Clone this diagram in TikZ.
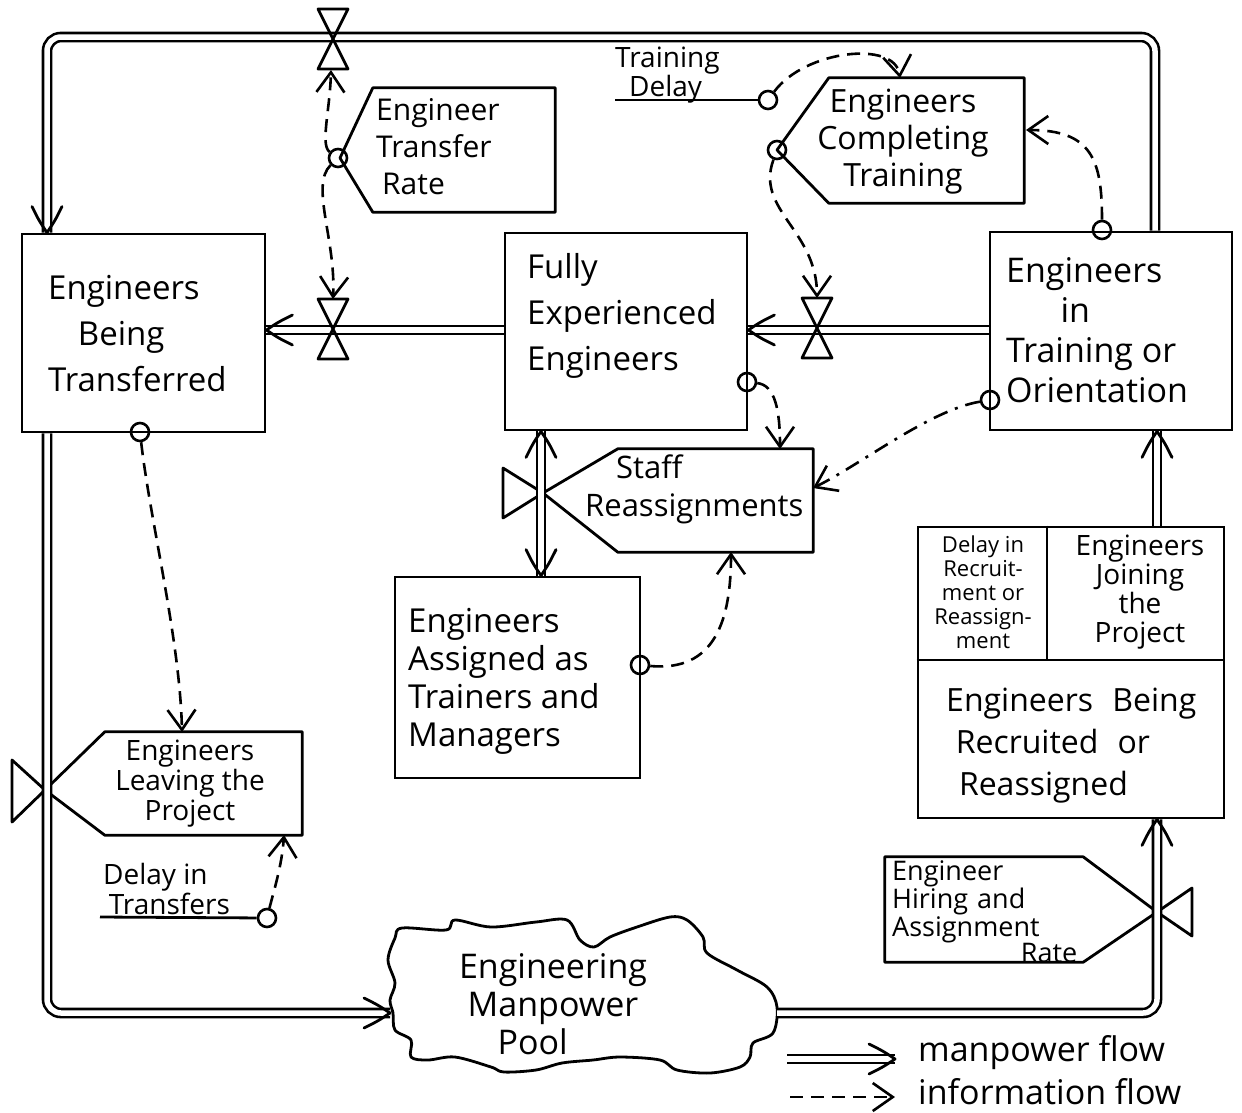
\documentclass[tikz,border=0pt]{standalone}
\usepackage{fontspec}
\setmainfont{Open Sans}
\usetikzlibrary{arrows.meta,fit,calc}
\begin{document}
\begin{tikzpicture}[x=1pt,y=-1pt,
  line/.style={line width=2.8pt, line join=round},
  box/.style={draw, line width=2.8pt, inner sep=0pt},
  hidden/.style={inner sep=0pt},
  flow/.style={double, double distance=5.5pt, line width=2.6pt},
  info/.style={line width=2.6pt, dash pattern=on 13pt off 8pt, -{Straight Barb[length=20pt,width=28pt,line width=2.6pt]}},
  infodd/.style={line width=2.6pt, dash pattern=on 15pt off 8pt on 3pt off 8pt, -{Straight Barb[length=20pt,width=28pt,line width=2.6pt]}},
  dot/.style={circle, draw, line width=2.6pt, minimum size=18pt, inner sep=0pt},
  txt/.style={inner sep=0pt, align=left},
  vvalve/.pic={\draw[line width=2.8pt, line join=round] (0,0) -- (-15,-30) -- (15,-30) -- cycle (0,0) -- (-15,30) -- (15,30) -- cycle;},
  mtip/.pic={\draw[line width=2.8pt, line cap=round, line join=round] (-26,-15) .. controls (-12,-8) .. (0,0) .. controls (-12,8) .. (-26,15);}
]
\useasboundingbox (0,0) rectangle (1242,1112);

% ---------- levels (boxes) ----------
\node[box, fit={(22,234)(265,432)}] (bt) {};
\node[box, fit={(505,233)(747,430)}] (fe) {};
\node[box, fit={(990,232)(1232,430)}] (tr) {};
\node[box, fit={(395,577)(640,778)}] (as) {};
\node[box, fit={(918,527)(1224,818)}] (rec) {};
\coordinate (divy) at (0,660);
\coordinate (divx) at (1047,0);
\draw[line] (rec.west |- divy) -- (rec.east |- divy);
\draw[line] (rec.north -| divx) -- (divx |- divy);

% ---------- rate symbols ----------
\node[hidden, fit={(373,88)(555,212)}] (rate) {};
\coordinate (rateTip) at (340,158);
\draw[line] (rateTip) -- (rate.north west) -- (rate.north east) -- (rate.south east) -- (rate.south west) -- cycle;

\node[hidden, fit={(829,78)(1024,203)}] (ct) {};
\coordinate (ctTip) at (777,150);
\draw[line] (ctTip) -- (ct.north west) -- (ct.north east) -- (ct.south east) -- (ct.south west) -- cycle;

\node[hidden, fit={(618,449)(813,552)}] (sr) {};
\coordinate (srTip) at (543,493);
\draw[line] (srTip) -- (sr.north west) -- (sr.north east) -- (sr.south east) -- (sr.south west) -- cycle;
\draw[line] (srTip) -- (503,468) -- (503,518) -- cycle;

\node[hidden, fit={(105,732)(302,835)}] (lv) {};
\coordinate (lvTip) at (45,790);
\draw[line] (lvTip) -- (lv.north west) -- (lv.north east) -- (lv.south east) -- (lv.south west) -- cycle;
\draw[line] (lvTip) -- (12,760) -- (12,822) -- cycle;

\node[hidden, fit={(885,857)(1083,962)}] (hr) {};
\coordinate (hrTip) at (1157,912);
\draw[line] (hr.north west) -- (hr.north east) -- (hrTip) -- (hr.south east) -- (hr.south west) -- cycle;
\draw[line] (hrTip) -- (1192,888) -- (1192,936) -- cycle;

% ---------- source / sink cloud ----------
\draw[line] plot[smooth cycle, tension=0.55] coordinates {
 (395,938) (402,928) (446,930) (455,920) (491,927) (536,922) (567,920) (580,940) (594,947)
 (610,937) (637,927) (670,917) (687,920) (703,937) (707,953) (737,970) (767,987) (777,1007)
 (773,1033) (753,1043) (750,1057) (740,1067) (710,1073) (677,1070) (660,1060) (620,1057)
 (593,1060) (562,1063) (536,1070) (504,1072) (491,1067) (455,1057) (428,1060) (411,1057)
 (411,1040) (395,1030) (393,1013) (390,1000) (395,983) (388,960)};
\coordinate (poolL) at (390,1013);
\coordinate (poolR) at (777,1013);

% ---------- manpower flows ----------
\coordinate (TR) at (1155,37);
\coordinate (TL) at (47,37);
\coordinate (BL) at (47,1013);
\coordinate (BR) at (1157,1013);
\coordinate (f1) at (0,330);
\coordinate (vx) at (541,0);
\draw[flow, rounded corners=14pt] (tr.north -| TR) -- (TR) -- (TL) -- (bt.north -| TL);
\pic[rotate=-90] at (bt.north -| TL) {mtip};
\draw[flow] (fe.west |- f1) -- (bt.east |- f1);
\pic[rotate=180] at (bt.east |- f1) {mtip};
\draw[flow] (tr.west |- f1) -- (fe.east |- f1);
\pic[rotate=180] at (fe.east |- f1) {mtip};
\draw[flow] (as.north -| vx) -- (fe.south -| vx);
\pic[rotate=90] at (fe.south -| vx) {mtip};
\pic[rotate=-90] at (as.north -| vx) {mtip};
\draw[flow] (rec.north -| BR) -- (tr.south -| BR);
\pic[rotate=90] at (tr.south -| BR) {mtip};
\draw[flow, rounded corners=14pt] (poolR) -- (BR) -- (rec.south -| BR);
\pic[rotate=90] at (rec.south -| BR) {mtip};
\draw[flow, rounded corners=14pt] (bt.south -| BL) -- (BL) -- (poolL);
\pic at (poolL) {mtip};

% ---------- valves ----------
\pic at (333,39) {vvalve};
\pic at (333,329) {vvalve};
\pic at (817,328) {vvalve};
\coordinate (vTopB) at (331,70);
\coordinate (vMidT) at (333,299);
\coordinate (vRtT) at (817,298);

% ---------- information taps ----------
\node[dot] (c1) at (338,158) {};
\node[dot] (cTD) at (768,100) {};
\node[dot] (cCT) at (777,150) {};
\node[dot] (cTRt) at (1102,230) {};
\node[dot] (cFE) at (747,382) {};
\node[dot] (cTRl) at (990,400) {};
\node[dot] (cAS) at (640,665) {};
\node[dot] (cBT) at (140,432) {};
\node[dot] (cDT) at (267,918) {};

\coordinate (ctE) at (1026,130);
\coordinate (srN) at (780,449);
\coordinate (srE) at (813,488);
\coordinate (srS) at (731,552);
\coordinate (lvN) at (182,732);
\coordinate (lvS) at (284,835);
\coordinate (ctN) at (900,78);

\draw[info] (c1) .. controls (320,145) and (330,110) .. (vTopB);
\draw[info] (c1) .. controls (310,185) and (336,240) .. (vMidT);
\draw[info] (cTD) .. controls (805,50) and (895,40) .. (ctN);
\draw[info] (cCT) .. controls (755,210) and (817,230) .. (vRtT);
\draw[info] (cTRt) .. controls (1102,160) and (1092,130) .. (ctE);
\draw[info] (cFE) .. controls (775,385) and (780,410) .. (srN);
\draw[infodd] (cTRl) .. controls (930,410) and (860,465) .. (srE);
\draw[info] (cAS) .. controls (715,672) and (731,620) .. (srS);
\draw[info] (cBT) .. controls (150,520) and (180,640) .. (lvN);
\draw[info] (cDT) .. controls (274,890) and (282,865) .. (lvS);

% underlines of constants
\coordinate (tdL) at (615,100);
\coordinate (dtL) at (100,917);
\draw[line] (tdL) -- (cTD);
\draw[line] (dtL) -- (cDT);

% ---------- texts ----------
\node[txt, anchor=west, font=\fontsize{33}{46}\selectfont] (tbt) at (48,334) {Engineers\\\hspace*{0.9em}Being\\Transferred};
\node[txt, anchor=west, font=\fontsize{33}{46}\selectfont] (tfe) at (527,316) {Fully\\Experienced\\Engineers};
\node[txt, anchor=west, font=\fontsize{34}{40}\selectfont] (ttr) at (1006,330) {Engineers\\\hspace*{1.6em}in\\Training or\\Orientation};
\node[txt, anchor=west, font=\fontsize{30}{37}\selectfont] (trate) at (376,147) {Engineer\\Transfer\\\hspace*{0.2em}Rate};
\node[txt, align=center, font=\fontsize{32}{37}\selectfont] (tct) at (903,142) {Engineers\\Completing\\Training};
\node[txt, anchor=west, font=\fontsize{31}{38}\selectfont] (tsr) at (585,489) {\hspace*{1em}Staff\\Reassignments};
\node[txt, anchor=west, font=\fontsize{33}{38}\selectfont] (tas) at (408,681) {Engineers\\Assigned as\\Trainers and\\Managers};
\node[txt, align=center, font=\fontsize{28}{30}\selectfont] (tlv) at (190,784) {Engineers\\Leaving the\\Project};
\node[txt, anchor=west, font=\fontsize{28}{30}\selectfont] (tdt) at (103,889) {Delay in\\\hspace*{0.2em}Transfers};
\node[txt, align=center, font=\fontsize{34}{38}\selectfont] (tpool) at (553,1004) {Engineering\\Manpower\\Pool\hspace*{1.2em}};
\node[txt, align=center, font=\fontsize{22}{24}\selectfont] (tdr) at (983,592) {Delay in\\Recruit-\\ment or\\Reassign-\\ment};
\node[txt, align=center, font=\fontsize{28}{29}\selectfont] (tjo) at (1140,592) {Engineers\\Joining\\the\\Project};
\node[txt, anchor=west, font=\fontsize{32}{42}\selectfont] (trec) at (946,746) {Engineers\hspace{0.6em}Being\\\hspace*{0.3em}Recruited\hspace{0.6em}or\\\hspace*{0.4em}Reassigned};
\node[txt, anchor=west, text width=185pt, font=\fontsize{27}{25}\selectfont] (thr) at (892,912) {Engineer\\Hiring and\\Assignment\\\hfill Rate};
\node[txt, anchor=west, font=\fontsize{28}{29}\selectfont] (ttd) at (615,75) {Training\\\hspace*{0.5em}Delay};

% ---------- legend ----------
\coordinate (lgA) at (787,1059);
\coordinate (lgB) at (895,1059);
\coordinate (lgC) at (790,1097);
\coordinate (lgD) at (895,1097);
\draw[flow] (lgA) -- (lgB);
\pic at (lgB) {mtip};
\draw[info] (lgC) -- (lgD);
\node[txt, anchor=west, font=\fontsize{34}{40}\selectfont] (lg1) at (918,1053) {manpower flow};
\node[txt, anchor=west, font=\fontsize{34}{40}\selectfont] (lg2) at (918,1092) {information flow};
\end{tikzpicture}
\end{document}
